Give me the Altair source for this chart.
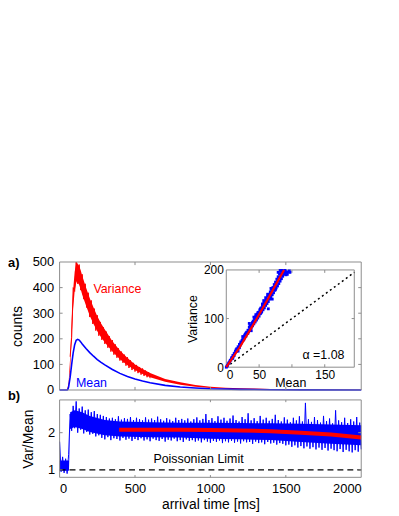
import altair as alt
import pandas as pd

FONT = "Liberation Sans"
BLUE = "#0000ff"
RED = "#ff0000"
FRAME = "#8c8c8c"

# ---------------- panel a): mean and variance of counts ----------------
mean_t = [0, 50, 55, 60, 70, 80, 90, 100, 110, 120, 130, 140, 150, 175, 200, 225, 250, 275,
          300, 350, 400, 450, 500, 550, 600, 700, 800, 900, 1000, 1200, 1400, 1600, 2000]
mean_v = [0, 0, 3, 12, 50, 100, 145, 177, 194, 198, 195, 188, 180, 162, 146, 132, 119, 108,
          98, 80, 65, 53, 43, 35, 28, 18, 12, 8, 5, 2.5, 1.2, 0.6, 0.2]

var_t = [0, 50, 60, 70, 80, 90, 100, 110, 115, 120, 130, 140, 150, 175, 200, 225, 250, 275,
         300, 350, 400, 450, 500, 550, 600, 700, 800, 900, 1000, 1100, 1200, 1300, 1400, 1600, 2000]
var_lo = [0, 0, 10, 80, 210, 318, 388, 418, 425, 420, 410, 394, 372, 330, 290, 258, 230, 206,
          186, 150, 120, 97, 78, 63, 50, 32, 21, 13, 8, 5, 3, 1.5, 0.5, 0, 0]
var_hi = [0, 1, 30, 125, 270, 392, 462, 495, 500, 492, 484, 468, 446, 400, 358, 322, 288, 260,
          236, 190, 154, 125, 100, 82, 66, 43, 30, 20, 13, 9, 7, 5.5, 4, 2.2, 0.9]

# noisy single-sample variance trace (ragged edge of the band), t = 70 ... 600 ms
var_noise = [130, 205, 400, 385, 500, 415, 490, 390, 452, 355, 415, 322, 380, 285, 350, 258,
             318, 232, 292, 212, 266, 196, 245, 180, 228, 165, 210, 150, 195, 138, 178, 126,
             163, 115, 150, 106, 138, 95, 128, 86, 116, 78, 106, 72, 98, 66, 90, 60, 84, 55,
             76, 50, 70, 46]
var_noise_t = [70 + 10 * i for i in range(len(var_noise))]

# inset: variance vs mean scatter
sc_mean = [0, 1, 2, 3, 4, 5, 6, 7, 8, 9, 10, 11, 12, 13, 14, 15, 16, 17, 18, 19, 20, 21, 22, 23, 24,
           25, 26, 27, 28, 29, 30, 31, 32, 33, 34, 35, 36, 37, 38, 39, 40, 41, 42, 43, 44, 45, 46,
           47, 48, 49, 50, 51, 52, 53, 54, 55, 56, 57, 58, 59, 60, 61, 62, 63, 64, 65, 66, 67, 68,
           69, 70, 71, 72, 73, 74, 75, 76, 77, 78, 79, 80, 81, 82, 83, 84, 85, 86, 88, 90, 92, 94,
           96, 79, 82, 87, 89, 91, 35, 42, 55, 60, 64, 70, 75, 38, 25, 18,
           10, 12, 15, 20, 22, 27, 30, 33, 37, 40, 44, 46, 48, 50, 52, 55, 58, 60, 62, 65,
           67, 70, 72, 74, 76, 78, 80, 82, 84, 86, 90, 93, 97, 68, 63, 57, 45, 36, 28, 53]
sc_var = [0, 2, 4, 7, 9, 11, 14, 15, 19, 20, 24, 23, 28, 29, 33, 32, 38, 37, 42, 41, 47, 45, 52, 50, 55,
          57, 56, 63, 61, 68, 64, 72, 69, 76, 73, 82, 77, 86, 81, 90, 85, 95, 89, 99, 93, 104, 97,
          109, 101, 113, 105, 118, 110, 122, 114, 127, 118, 131, 122, 136, 127, 140, 131, 146, 135, 150, 140, 155, 144,
          160, 149, 164, 153, 170, 158, 175, 163, 181, 167, 186, 172, 192, 177, 197, 182, 199, 187, 191, 195, 194, 196,
          198, 195, 199, 196, 199, 190, 90, 103, 130, 143, 120, 140, 160, 75, 63, 33,
          18, 24, 36, 40, 48, 58, 70, 70, 80, 92, 100, 106, 112, 110, 120, 122, 133, 132, 138, 143,
          150, 158, 160, 165, 172, 178, 185, 186, 192, 195, 198, 191, 195, 162, 150, 137, 108, 84, 66, 112]
fit_mean = [0, 20, 40, 60, 80, 88]
fit_var = [0, 40, 85, 132, 181, 200]
diag_v = [0, 195]

# ---------------- panel b): Var/Mean ----------------
ratio_vals = [
    1.76, 0.95, 1.35, 0.92, 1.30, 0.90, 1.42,
    2.50,
    2.05, 2.72, 2.12, 2.84, 2.00, 2.65, 2.08, 2.70, 1.98, 2.60,
    2.02, 2.62, 1.95, 2.55, 1.97, 2.58, 1.90, 2.50, 1.93, 2.48,
    1.86, 2.45, 1.82, 2.42, 1.88, 2.38, 1.80, 2.40, 1.85, 2.36,
    1.83, 2.44, 1.79, 2.35, 1.86, 2.39, 1.81, 2.37, 1.84, 2.42,
    1.78, 2.34, 1.83, 2.40, 1.80, 2.36, 1.85, 2.33, 1.79, 2.41,
    1.82, 2.35, 1.77, 2.38, 1.84, 2.34, 1.80, 2.43, 1.78, 2.36,
    1.83, 2.32, 1.76, 2.39, 1.81, 2.35, 1.79, 2.31, 1.84, 2.40,
    1.77, 2.34, 1.80, 2.37, 1.75, 2.33, 1.82, 2.38, 1.78, 2.30,
    1.80, 2.36, 1.76,
    2.41, 1.79, 2.33, 1.74, 2.37, 1.80, 2.50, 1.76, 2.34, 1.73,
    2.39, 1.78, 2.31, 1.75, 2.44, 1.79, 2.35, 1.72, 2.40, 1.77,
    2.32, 1.74, 2.38, 1.78, 2.46, 1.73, 2.34, 1.76, 2.30, 1.71,
    2.42, 1.77, 2.36, 1.74, 2.52, 1.75, 2.33, 1.70, 2.39, 1.76,
    2.31, 1.72, 2.45, 1.74, 2.35, 1.69, 2.40, 1.75, 2.32, 1.71,
    2.37, 1.73, 2.48, 1.68, 2.34, 1.72, 2.30, 1.70, 2.41, 1.66,
    2.35, 1.68, 2.28, 1.62, 2.40, 1.66, 2.33, 1.60, 2.44, 1.64,
    2.30, 1.58, 2.80, 1.63, 2.36, 1.57, 2.29, 1.61, 2.42, 1.55,
    2.34, 1.60, 2.27, 1.54, 2.45, 1.59, 2.31, 1.52, 2.38, 1.57,
    2.25, 1.53, 2.60, 1.50, 2.33, 1.56, 2.28, 1.48, 2.40, 1.54,
    2.26, 1.50, 2.36, 1.47, 2.30, 1.53, 2.42, 1.49, 2.27, 1.55,
]
ratio_t = [10 * i for i in range(len(ratio_vals))]

# dense core of the noisy Var/Mean trace
core_t = [0, 62, 70, 100, 150, 200, 300, 400, 600, 800, 1000, 1200, 1400, 1600, 1800, 2000]
core_lo = [0.98, 0.98, 2.10, 2.15, 2.10, 2.02, 1.93, 1.90, 1.88, 1.87, 1.84, 1.82, 1.80, 1.75, 1.70, 1.66]
core_hi = [1.25, 1.25, 2.55, 2.60, 2.55, 2.45, 2.34, 2.30, 2.28, 2.27, 2.27, 2.26, 2.25, 2.24, 2.22, 2.20]

fit_t = [395, 600, 800, 1000, 1200, 1400, 1600, 1800, 2000]
fit_r = [2.08, 2.08, 2.08, 2.07, 2.06, 2.04, 2.00, 1.95, 1.87]

poisson_t = [0, 2000]
poisson_r = [1, 1]

# tick marks (drawn inside the boxes, like the original)
top_xticks = [500, 1000, 1500]
top_yticks = [100, 200, 300, 400]
bot_xticks = [500, 1000, 1500]
bot_yticks = [1, 2]
in_xticks = [50, 100, 150]
in_yticks = [100]

# ---------------- geometry of the figure ----------------
W, H = 304, 217
TOP_H = 129
BOT_TOP = 139
BOT_LIM = [0.8, 2.88]


def xs():
    return alt.Scale(domain=[0, 2000], range=[0, W], nice=False, zero=False)


def ys_top():
    return alt.Scale(domain=[0, 500], range=[TOP_H, 0], nice=False, zero=False)


def ys_bot():
    return alt.Scale(domain=BOT_LIM, range=[H, BOT_TOP], nice=False, zero=False)


def xs_in():
    return alt.Scale(domain=[0, 195], range=[168, 297], nice=False, zero=False)


def ys_in():
    return alt.Scale(domain=[0, 200], range=[106, 8], nice=False, zero=False)


def tick_frame(xt, yt, xlim, ylim, xlen, ylen):
    rows = []
    for v in xt:
        rows.append({"x0": v, "x1": v, "y0": ylim[0], "y1": ylim[0] + ylen})
        rows.append({"x0": v, "x1": v, "y0": ylim[1], "y1": ylim[1] - ylen})
    for v in yt:
        rows.append({"x0": xlim[0], "x1": xlim[0] + xlen, "y0": v, "y1": v})
        rows.append({"x0": xlim[1], "x1": xlim[1] - xlen, "y0": v, "y1": v})
    return pd.DataFrame(rows)


def rules(df, sx, sy):
    return alt.Chart(df).mark_rule(color=FRAME, strokeWidth=1).encode(
        x=alt.X("x0:Q", scale=sx, axis=None), x2="x1:Q",
        y=alt.Y("y0:Q", scale=sy, axis=None), y2="y1:Q",
    )


df_mean = pd.DataFrame({"t": mean_t, "v": mean_v})
df_var = pd.DataFrame({"t": var_t, "lo": var_lo, "hi": var_hi})
df_var_noise = pd.DataFrame({"t": var_noise_t, "v": var_noise})
df_sc = pd.DataFrame({"m": sc_mean, "v": sc_var})
df_fit_in = pd.DataFrame({"m": fit_mean, "v": fit_var})
df_diag = pd.DataFrame({"m": diag_v, "v": diag_v})
df_ratio = pd.DataFrame({"t": ratio_t, "r": ratio_vals})
df_core = pd.DataFrame({"t": core_t, "lo": core_lo, "hi": core_hi})
df_fit = pd.DataFrame({"t": fit_t, "r": fit_r})
df_pois = pd.DataFrame({"t": poisson_t, "r": poisson_r})

frame_top = pd.DataFrame({"x0": [0], "x1": [2000], "y0": [0], "y1": [500]})
frame_bot = pd.DataFrame({"x0": [0], "x1": [2000], "y0": [BOT_LIM[0]], "y1": [BOT_LIM[1]]})
frame_in = pd.DataFrame({"x0": [0], "x1": [195], "y0": [0], "y1": [200]})

# top panel
var_area = alt.Chart(df_var).mark_area(color=RED, opacity=1).encode(
    x=alt.X("t:Q", scale=xs(), axis=None),
    y=alt.Y("lo:Q", scale=ys_top(),
            axis=alt.Axis(orient="left", values=[0, 100, 200, 300, 400, 500], title="counts",
                          format="d", labelPadding=6, titlePadding=8)),
    y2="hi:Q",
)
var_noise_line = alt.Chart(df_var_noise).mark_line(color=RED, strokeWidth=1).encode(
    x=alt.X("t:Q", scale=xs(), axis=None),
    y=alt.Y("v:Q", scale=ys_top(), axis=None),
)
mean_line = alt.Chart(df_mean).mark_line(color=BLUE, strokeWidth=1.6).encode(
    x=alt.X("t:Q", scale=xs(), axis=None),
    y=alt.Y("v:Q", scale=ys_top(), axis=None),
)
top_frame = alt.Chart(frame_top).mark_rect(fill="transparent", stroke=FRAME, strokeWidth=1).encode(
    x=alt.X("x0:Q", scale=xs(), axis=None), x2="x1:Q",
    y=alt.Y("y0:Q", scale=ys_top(), axis=None), y2="y1:Q",
)
top_ticks = rules(tick_frame(top_xticks, top_yticks, [0, 2000], [0, 500], 20, 12), xs(), ys_top())

ann_top = pd.DataFrame({"t": [383, 211], "v": [395, 27], "txt": ["Variance", "Mean"], "c": [RED, BLUE]})
top_text = alt.Chart(ann_top).mark_text(font=FONT, fontSize=12.5).encode(
    x=alt.X("t:Q", scale=xs(), axis=None),
    y=alt.Y("v:Q", scale=ys_top(), axis=None),
    text="txt:N",
    color=alt.Color("c:N", scale=None),
)

# inset
in_frame = alt.Chart(frame_in).mark_rect(fill="white", stroke=FRAME, strokeWidth=1).encode(
    x=alt.X("x0:Q", scale=xs_in(), axis=None), x2="x1:Q",
    y=alt.Y("y0:Q", scale=ys_in(), axis=None), y2="y1:Q",
)
in_ticks = rules(tick_frame(in_xticks, in_yticks, [0, 195], [0, 200], 4, 6), xs_in(), ys_in())
in_diag = alt.Chart(df_diag).mark_line(color="black", strokeWidth=1.5, strokeDash=[2, 3]).encode(
    x=alt.X("m:Q", scale=xs_in(), axis=None),
    y=alt.Y("v:Q", scale=ys_in(), axis=None),
)
in_scatter = alt.Chart(df_sc).mark_square(color=BLUE, size=8, opacity=1).encode(
    x=alt.X("m:Q", scale=xs_in(),
            axis=alt.Axis(orient="bottom", offset=-(H - 106), values=[0, 50, 150], title="Mean",
                          format="d", labelFontSize=12, titleFontSize=12.5, labelPadding=2, titlePadding=-4)),
    y=alt.Y("v:Q", scale=ys_in(),
            axis=alt.Axis(orient="left", offset=-168, values=[0, 100, 200], title="Variance",
                          format="d", labelFontSize=12, titleFontSize=12.5, labelPadding=3, titlePadding=4)),
)
in_fit = alt.Chart(df_fit_in).mark_line(color=RED, strokeWidth=2.2).encode(
    x=alt.X("m:Q", scale=xs_in(), axis=None),
    y=alt.Y("v:Q", scale=ys_in(), axis=None),
)
in_text = alt.Chart(pd.DataFrame({"m": [148], "v": [24], "txt": ["\u03b1 =1.08"]})).mark_text(
    font=FONT, fontSize=12.5, color="black").encode(
    x=alt.X("m:Q", scale=xs_in(), axis=None),
    y=alt.Y("v:Q", scale=ys_in(), axis=None),
    text="txt:N",
)

# bottom panel
core_area = alt.Chart(df_core).mark_area(color=BLUE, opacity=1).encode(
    x=alt.X("t:Q", scale=xs(), axis=None),
    y=alt.Y("lo:Q", scale=ys_bot(), axis=None),
    y2="hi:Q",
)
ratio_line = alt.Chart(df_ratio).mark_line(color=BLUE, strokeWidth=1).encode(
    x=alt.X("t:Q", scale=xs(),
            axis=alt.Axis(orient="bottom", values=[0, 500, 1000, 1500, 2000], title="arrival time [ms]",
                          format="d", labelPadding=5, titlePadding=2)),
    y=alt.Y("r:Q", scale=ys_bot(),
            axis=alt.Axis(orient="left", values=[1, 2], title="Var/Mean", format="d",
                          labelPadding=5, titlePadding=12)),
)
fit_line = alt.Chart(df_fit).mark_line(color=RED, strokeWidth=4).encode(
    x=alt.X("t:Q", scale=xs(), axis=None),
    y=alt.Y("r:Q", scale=ys_bot(), axis=None),
)
pois_line = alt.Chart(df_pois).mark_line(color="black", strokeWidth=1.3, strokeDash=[6, 4]).encode(
    x=alt.X("t:Q", scale=xs(), axis=None),
    y=alt.Y("r:Q", scale=ys_bot(), axis=None),
)
bot_frame = alt.Chart(frame_bot).mark_rect(fill="transparent", stroke=FRAME, strokeWidth=1).encode(
    x=alt.X("x0:Q", scale=xs(), axis=None), x2="x1:Q",
    y=alt.Y("y0:Q", scale=ys_bot(), axis=None), y2="y1:Q",
)
bot_ticks = rules(tick_frame(bot_xticks, bot_yticks, [0, 2000], BOT_LIM, 20, 0.06), xs(), ys_bot())
pois_text = alt.Chart(pd.DataFrame({"t": [921], "r": [1.28], "txt": ["Poissonian Limit"]})).mark_text(
    font=FONT, fontSize=12.5, color="black").encode(
    x=alt.X("t:Q", scale=xs(), axis=None),
    y=alt.Y("r:Q", scale=ys_bot(), axis=None),
    text="txt:N",
)

panel_labels = alt.Chart(pd.DataFrame({"txt": ["a)", "b)"], "py": [1, 135]})).mark_text(
    font=FONT, fontSize=13, fontWeight="bold", align="left", baseline="middle", color="black").encode(
    x=alt.value(-52),
    y=alt.Y("py:Q", scale=alt.Scale(domain=[0, H], range=[0, H], nice=False, zero=False), axis=None),
    text="txt:N",
)

chart = alt.layer(
    var_area, var_noise_line, mean_line, top_frame, top_ticks, top_text,
    in_frame, in_ticks, in_diag, in_scatter, in_fit, in_text,
    core_area, ratio_line, fit_line, pois_line, bot_frame, bot_ticks, pois_text,
    panel_labels,
).resolve_scale(x="independent", y="independent").properties(
    width=W, height=H,
    autosize=alt.AutoSizeParams(type="none"),
    padding={"left": 52, "top": 254, "right": 30, "bottom": 40},
).configure_view(strokeWidth=0).configure_axis(
    labelFont=FONT, titleFont=FONT, labelFontSize=13, titleFontSize=14, titleFontWeight="normal",
    labelColor="black", titleColor="black", domain=False, ticks=False, grid=False,
)

chart.save("out.html", embed_options={"renderer": "svg", "actions": False})
